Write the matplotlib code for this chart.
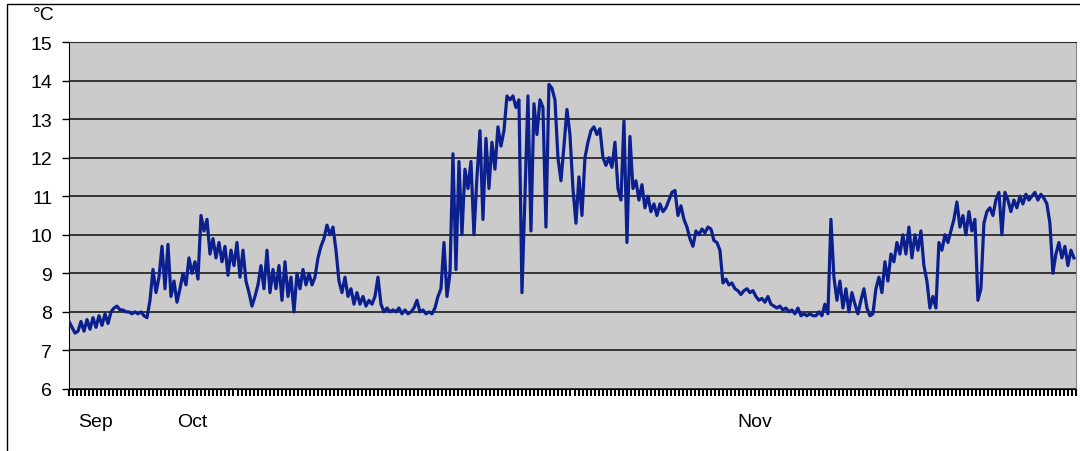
import numpy as np
import matplotlib.pyplot as plt
from matplotlib.patches import Rectangle

plt.rcParams['font.family'] = ['Liberation Sans', 'DejaVu Sans']

# water temperature, one reading every ~3 px of the original chart
temp = [
    7.75, 7.6, 7.45, 7.5, 7.75, 7.5, 7.8, 7.55, 7.85, 7.6,
    7.9, 7.65, 7.95, 7.7, 8.0, 8.1, 8.15, 8.05, 8.05, 8.0,
    8.0, 7.95, 8.0, 7.95, 8.0, 7.9, 7.85, 8.3, 9.1, 8.5,
    8.9, 9.7, 8.6, 9.75, 8.4, 8.8, 8.25, 8.6, 9.0, 8.7,
    9.4, 9.0, 9.3, 8.85, 10.5, 10.1, 10.4, 9.5, 9.9, 9.4,
    9.8, 9.3, 9.7, 8.95, 9.6, 9.2, 9.8, 8.9, 9.6, 8.8,
    8.5, 8.15, 8.4, 8.7, 9.2, 8.6, 9.6, 8.5, 9.1, 8.6,
    9.2, 8.3, 9.3, 8.4, 8.9, 8.0, 9.0, 8.6, 9.1, 8.7,
    9.0, 8.7, 8.9, 9.4, 9.7, 9.9, 10.25, 10.0, 10.2, 9.6,
    8.8, 8.5, 8.9, 8.4, 8.6, 8.2, 8.5, 8.2, 8.4, 8.15,
    8.3, 8.2, 8.4, 8.9, 8.2, 8.0, 8.1, 8.0, 8.05, 8.0,
    8.1, 7.95, 8.05, 7.95, 8.0, 8.1, 8.3, 8.0, 8.05, 7.95,
    8.0, 7.95, 8.1, 8.4, 8.6, 9.8, 8.4, 9.0, 12.1, 9.1,
    11.9, 10.0, 11.7, 11.2, 11.9, 10.0, 11.5, 12.7, 10.4, 12.5,
    11.2, 12.4, 11.7, 12.8, 12.3, 12.7, 13.6, 13.5, 13.6, 13.3,
    13.5, 8.5, 11.0, 13.6, 10.1, 13.4, 12.6, 13.5, 13.3, 10.2,
    13.9, 13.8, 13.5, 12.0, 11.4, 12.3, 13.25, 12.6, 11.2, 10.3,
    11.5, 10.5, 12.0, 12.4, 12.7, 12.8, 12.6, 12.75, 12.0, 11.8,
    12.0, 11.75, 12.4, 11.2, 10.9, 12.95, 9.8, 12.55, 11.2, 11.4,
    10.9, 11.3, 10.7, 11.0, 10.6, 10.8, 10.5, 10.8, 10.6, 10.7,
    10.9, 11.1, 11.15, 10.5, 10.75, 10.4, 10.2, 9.9, 9.7, 10.1,
    10.0, 10.15, 10.05, 10.2, 10.15, 9.85, 9.8, 9.6, 8.75, 8.85,
    8.7, 8.75, 8.6, 8.55, 8.45, 8.55, 8.6, 8.5, 8.55, 8.4,
    8.3, 8.35, 8.25, 8.4, 8.2, 8.15, 8.1, 8.15, 8.05, 8.1,
    8.0, 8.05, 7.95, 8.1, 7.9, 7.95, 7.9, 7.95, 7.9, 7.9,
    8.0, 7.9, 8.2, 7.95, 10.4, 8.9, 8.3, 8.8, 8.1, 8.6,
    8.0, 8.5, 8.2, 7.95, 8.3, 8.6, 8.1, 7.9, 7.95, 8.6,
    8.9, 8.5, 9.3, 8.8, 9.5, 9.3, 9.8, 9.5, 10.0, 9.5,
    10.2, 9.4, 10.0, 9.6, 10.1, 9.2, 8.8, 8.1, 8.4, 8.1,
    9.8, 9.6, 10.0, 9.8, 10.1, 10.4, 10.85, 10.2, 10.5, 10.0,
    10.6, 10.1, 10.4, 8.3, 8.6, 10.3, 10.6, 10.7, 10.5, 10.9,
    11.1, 10.0, 11.1, 10.9, 10.6, 10.9, 10.7, 11.0, 10.8, 11.05,
    10.9, 11.0, 11.1, 10.9, 11.05, 10.95, 10.8, 10.3, 9.0, 9.5,
    9.8, 9.4, 9.7, 9.2, 9.6, 9.4,
]
months = ['Sep', 'Oct', 'Nov']
month_pos = [8.7, 41.0, 228.7]
yticks = [6, 7, 8, 9, 10, 11, 12, 13, 14, 15]

x = np.arange(len(temp))
xmax = 335.7

fig = plt.figure(figsize=(10.8, 4.52), dpi=100)
ax = fig.add_axes([69/1080, 1-390/452, (1076-69)/1080, (390-43)/452])
ax.set_facecolor('#cbcbcb')

ax.plot(x, temp, color='#0c1f8e', lw=2.3, zorder=3)

ax.set_xlim(0, xmax)
ax.set_ylim(6, 15)
ax.set_yticks(yticks)
ax.yaxis.grid(True, color='#2a2a2a', lw=1.3, zorder=1)
ax.set_axisbelow(True)

ax.set_xticks(month_pos)
ax.set_xticklabels(months)
ax.set_xticks(np.linspace(0, xmax, 252), minor=True)
ax.tick_params(axis='x', which='major', length=0, pad=17, labelsize=14)
ax.tick_params(axis='x', which='minor', length=5, width=1.5, color='black')
ax.tick_params(axis='y', length=5, width=1, pad=7, labelsize=14)

ax.spines['left'].set_color('black')
ax.spines['bottom'].set_color('black')
ax.spines['top'].set_color('#2a2a2a')
ax.spines['right'].set_color('#888888')

fig.text(33/1080, 1-15/452, '°C', fontsize=14, va='center', ha='left')

fig.add_artist(Rectangle((7/1080, -0.1), 1.2, 1-5/452+0.1, transform=fig.transFigure,
                         fill=False, ec='black', lw=1))

plt.savefig('out.png', dpi=100)
